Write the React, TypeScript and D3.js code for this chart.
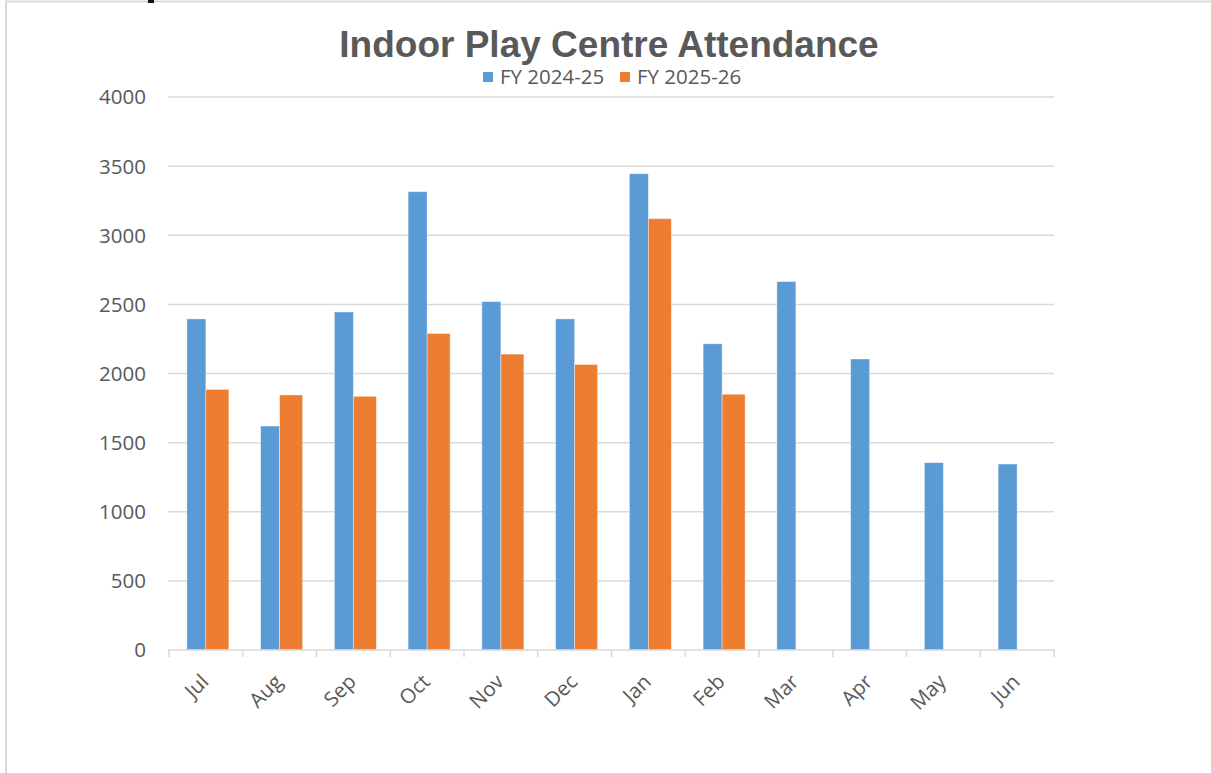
import { useEffect, useRef } from 'react';
import * as d3 from 'd3';

const months = ['Jul', 'Aug', 'Sep', 'Oct', 'Nov', 'Dec', 'Jan', 'Feb', 'Mar', 'Apr', 'May', 'Jun'];
const fy2425 = [2395, 1620, 2445, 3315, 2520, 2395, 3445, 2215, 2665, 2105, 1355, 1345];
const fy2526: (number | null)[] = [1885, 1845, 1835, 2290, 2140, 2065, 3120, 1850, null, null, null, null];
const yTicks = [0, 500, 1000, 1500, 2000, 2500, 3000, 3500, 4000];
const seriesNames = ['FY 2024-25', 'FY 2025-26'];

const BLUE = '#5b9bd5';
const ORANGE = '#ed7d31';
const GRID = '#d9d9d9';
const TEXT = '#595959';

export default function App() {
  const svgRef = useRef<SVGSVGElement>(null);

  useEffect(() => {
    if (!svgRef.current) return;
    const W = 1211, H = 773;
    const svg = d3.select(svgRef.current);
    svg.selectAll('*').remove();
    svg.attr('width', W).attr('height', H);

    const x = d3.scaleBand<string>().domain(months).range([169, 1054]).padding(0);
    const y = d3.scaleLinear().domain([0, 4000]).range([650, 97]);

    // chart frame (left + top edges visible)
    svg.append('rect').attr('x', 6).attr('y', 1.5).attr('width', W + 20).attr('height', H + 20)
      .attr('fill', '#fff').attr('stroke', GRID).attr('stroke-width', 2);
    svg.append('rect').attr('x', 148).attr('y', 0).attr('width', 6).attr('height', 3).attr('fill', '#111');

    // gridlines
    svg.append('g').selectAll('line').data(yTicks.filter(t => t > 0)).enter().append('line')
      .attr('x1', 168).attr('x2', 1054)
      .attr('y1', d => y(d)).attr('y2', d => y(d))
      .attr('stroke', GRID).attr('stroke-width', 1.5);

    // y labels
    svg.append('g').selectAll('text').data(yTicks).enter().append('text')
      .attr('x', 146).attr('y', d => y(d)).attr('dy', '0.36em')
      .attr('text-anchor', 'end').attr('font-family', '"Open Sans", sans-serif')
      .attr('font-size', 20.5).attr('fill', TEXT).text(d => d);

    // bars
    const cx = (m: string) => (x(m) ?? 0) + x.bandwidth() / 2;
    svg.append('g').selectAll('rect').data(months.map((m, i) => ({ m, v: fy2425[i] }))).enter().append('rect')
      .attr('x', d => cx(d.m) - 19).attr('width', 19)
      .attr('y', d => y(d.v)).attr('height', d => y(0) - y(d.v))
      .attr('fill', BLUE).attr('stroke', '#fff').attr('stroke-opacity', 0.5).attr('stroke-width', 0.8);
    svg.append('g').selectAll('rect')
      .data(months.map((m, i) => ({ m, v: fy2526[i] })).filter(d => d.v != null)).enter().append('rect')
      .attr('x', d => cx(d.m)).attr('width', 23)
      .attr('y', d => y(d.v as number)).attr('height', d => y(0) - y(d.v as number))
      .attr('fill', ORANGE).attr('stroke', '#fff').attr('stroke-opacity', 0.5).attr('stroke-width', 0.8);

    // x axis
    svg.append('line').attr('x1', 168).attr('x2', 1055).attr('y1', y(0)).attr('y2', y(0))
      .attr('stroke', GRID).attr('stroke-width', 1.5);
    const bounds = months.map(m => x(m) ?? 0).concat([1054]);
    svg.append('g').selectAll('line').data(bounds).enter().append('line')
      .attr('x1', d => d).attr('x2', d => d).attr('y1', y(0)).attr('y2', y(0) + 7)
      .attr('stroke', GRID).attr('stroke-width', 1.5);

    svg.append('g').selectAll('text').data(months).enter().append('text')
      .attr('transform', d => `translate(${cx(d) + 4},${683}) rotate(-45)`)
      .attr('text-anchor', 'end').attr('font-family', '"Open Sans", sans-serif')
      .attr('font-size', 20.5).attr('fill', TEXT).text(d => d);

    // title
    svg.append('text').attr('x', 609).attr('y', 57).attr('text-anchor', 'middle')
      .attr('font-family', '"Liberation Sans", Arial, sans-serif').attr('font-weight', 700)
      .attr('font-size', 37).attr('fill', TEXT).text('Indoor Play Centre Attendance');

    // legend
    const legendX = [483, 620];
    const colors = [BLUE, ORANGE];
    const lg = svg.append('g').selectAll('g').data(seriesNames).enter().append('g')
      .attr('transform', (_, i) => `translate(${legendX[i]},77)`);
    lg.append('rect').attr('x', 0).attr('y', -5).attr('width', 10).attr('height', 10)
      .attr('fill', (_, i) => colors[i]);
    lg.append('text').attr('x', 17).attr('y', 0).attr('dy', '0.36em')
      .attr('font-family', '"Open Sans", sans-serif').attr('font-size', 20.5)
      .attr('fill', TEXT).text(d => d);
  }, []);

  return (
    <svg ref={svgRef} style={{ position: 'absolute', left: 0, top: 0, background: '#fff' }} />
  );
}
